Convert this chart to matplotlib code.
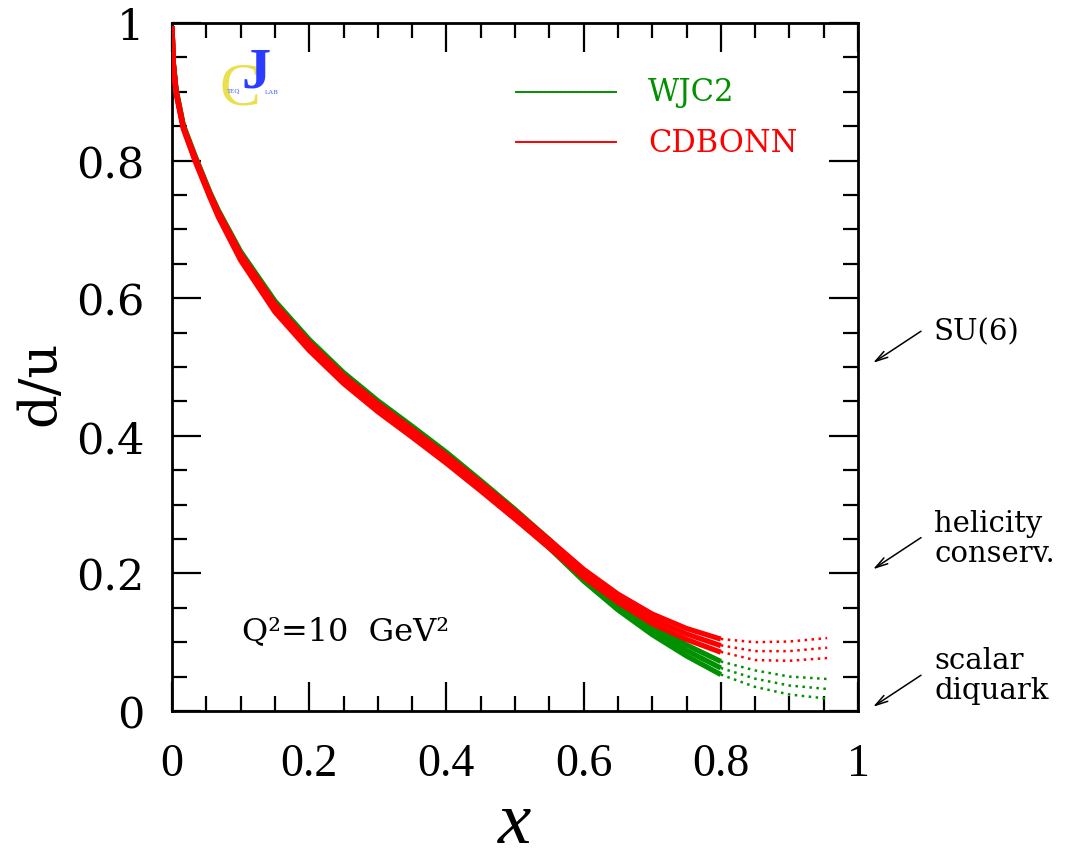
import matplotlib
matplotlib.use("Agg")
import matplotlib.pyplot as plt
import numpy as np

# ---------------- data ----------------
x_solid = [0.0001, 0.002, 0.006, 0.0165, 0.0345, 0.0554, 0.0675, 0.1, 0.15, 0.2,
           0.25, 0.3, 0.35, 0.4, 0.45, 0.5, 0.55, 0.6, 0.65, 0.7, 0.75, 0.8]
cdbonn_mid = [0.995, 0.94, 0.899, 0.848, 0.80, 0.749, 0.722, 0.660, 0.586, 0.530,
              0.482, 0.441, 0.404, 0.366, 0.326, 0.285, 0.243, 0.200, 0.164, 0.134, 0.112, 0.095]
cdbonn_spread = [0.0, 0.001, 0.002, 0.002, 0.003, 0.003, 0.004, 0.005, 0.006, 0.006,
                 0.006, 0.006, 0.006, 0.006, 0.006, 0.006, 0.006, 0.006, 0.006, 0.007, 0.008, 0.0095]
wjc2_mid = [0.995, 0.942, 0.902, 0.850, 0.802, 0.751, 0.724, 0.663, 0.590, 0.534,
            0.486, 0.445, 0.408, 0.370, 0.329, 0.287, 0.243, 0.195, 0.153, 0.118, 0.088, 0.0625]
wjc2_spread = [0.0, 0.001, 0.002, 0.002, 0.003, 0.003, 0.004, 0.005, 0.006, 0.006,
               0.006, 0.006, 0.006, 0.006, 0.006, 0.006, 0.006, 0.006, 0.006, 0.007, 0.008, 0.0095]

x_dot = [0.8, 0.85, 0.9, 0.955]
cdbonn_dot_hi = [0.1047, 0.100, 0.101, 0.106]
cdbonn_dot_mid = [0.0955, 0.087, 0.087, 0.092]
cdbonn_dot_lo = [0.086, 0.074, 0.073, 0.077]
wjc2_dot_hi = [0.072, 0.059, 0.050, 0.0465]
wjc2_dot_mid = [0.0625, 0.047, 0.037, 0.032]
wjc2_dot_lo = [0.053, 0.035, 0.024, 0.018]

series_names = ["WJC2", "CDBONN"]
series_colors = ["#009000", "#ff0000"]

limits = [("SU(6)", 0.5), ("helicity\nconserv.", 0.2), ("scalar\ndiquark", 0.0)]

x_ticks = [0, 0.2, 0.4, 0.6, 0.8, 1.0]
x_ticklabels = ["0", "0.2", "0.4", "0.6", "0.8", "1"]
y_ticks = [0, 0.2, 0.4, 0.6, 0.8, 1.0]
y_ticklabels = ["0", "0.2", "0.4", "0.6", "0.8", "1"]

# ---------------- figure ----------------
W, H = 1072, 862
fig = plt.figure(figsize=(W / 100, H / 100), dpi=100)
ax = fig.add_axes([172 / W, (H - 712) / H, 686 / W, 688 / H])
ax.set_xlim(0, 1)
ax.set_ylim(0, 1)

serif = "DejaVu Serif"


def px2ax(px, py):
    return (px - 172) / 686, (712 - py) / 688


lw_band = 3.7
mids = [wjc2_mid, cdbonn_mid]
spreads = [wjc2_spread, cdbonn_spread]
dots = [(wjc2_dot_hi, wjc2_dot_mid, wjc2_dot_lo), (cdbonn_dot_hi, cdbonn_dot_mid, cdbonn_dot_lo)]
for mid, spr, col, dset in zip(mids, spreads, series_colors, dots):
    m = np.array(mid)
    s = np.array(spr)
    for curve in (m + s, m, m - s):
        ax.plot(x_solid, curve, color=col, lw=lw_band, solid_capstyle="butt",
                solid_joinstyle="round", zorder=3)
    for dcurve in dset:
        ax.plot(x_dot, dcurve, color=col, lw=1.8, linestyle=(0, (1.0, 1.8)), zorder=3)

# legend (manual)
for name, col, py in zip(series_names, series_colors, [93, 143]):
    x0, yy = px2ax(516, py)
    x1, _ = px2ax(616, py)
    ax.plot([x0, x1], [yy, yy], color=col, lw=1.4)
    tx, _ = px2ax(648, py)
    ax.text(tx, yy, name, color=col, fontsize=22, family=serif, va="center", ha="left")

# Q^2 text
qx, qy = px2ax(242, 632)
ax.text(qx, qy, "Q²=10  GeV²", fontsize=23, family=serif, va="center", ha="left")

# logo
cx, cy = px2ax(240, 90)
ax.text(cx, cy, "C", color="#e8dc3a", fontsize=44, family="Liberation Serif",
        va="center", ha="center", alpha=0.9)
jx, jy = px2ax(256, 74)
ax.text(jx, jy, "J", color="#2a3cff", fontsize=42, family="Liberation Serif",
        fontweight="bold", va="center", ha="center")
tx, ty = px2ax(234, 91)
ax.text(tx, ty, "TEQ", color="#4a60ff", fontsize=5, family="Liberation Serif",
        va="center", ha="center")
lx, ly = px2ax(272, 92)
ax.text(lx, ly, "LAB", color="#4a60ff", fontsize=5, family="Liberation Serif",
        va="center", ha="center")

# right-side limit annotations
head_x, _ = px2ax(873, 0)
tail_x, _ = px2ax(921, 0)
text_x, _ = px2ax(934, 0)
for label, yv in limits:
    head_y = yv + 0.006
    tail_y = yv + 0.052
    ax.annotate("", xy=(head_x, head_y), xytext=(tail_x, tail_y),
                xycoords="data", textcoords="data", annotation_clip=False,
                arrowprops=dict(arrowstyle="->,head_length=0.9,head_width=0.25",
                                color="black", lw=1.1, shrinkA=0, shrinkB=0))
    ax.text(text_x, yv + 0.052, label, fontsize=21, family=serif, va="center", ha="left",
            linespacing=1.1, clip_on=False)

# ticks
ax.set_xticks(x_ticks)
ax.set_xticklabels(x_ticklabels, fontsize=33, family="Liberation Serif")
ax.set_yticks(y_ticks)
ax.set_yticklabels(y_ticklabels, fontsize=31, family=serif)
ax.set_xticks(np.arange(0, 1.0001, 0.05), minor=True)
ax.set_yticks(np.arange(0, 1.0001, 0.05), minor=True)
ax.tick_params(which="both", direction="in", top=True, right=True, width=1.6, color="black")
ax.tick_params(which="major", length=21)
ax.tick_params(which="minor", length=10.5)
ax.tick_params(axis="x", which="major", pad=23)
ax.tick_params(axis="y", which="major", pad=20)
for sp in ax.spines.values():
    sp.set_linewidth(2.0)

xlx, xly = px2ax(515, 843)
ax.text(xlx, xly, "x", fontsize=54, family="Liberation Serif", style="italic",
        va="baseline", ha="center", clip_on=False)
ylx, yly = px2ax(40, 383)
ax.text(ylx, yly, "d/u", fontsize=38, family=serif, rotation=90,
        va="center", ha="center", clip_on=False)

fig.savefig("out.png", dpi=100)
